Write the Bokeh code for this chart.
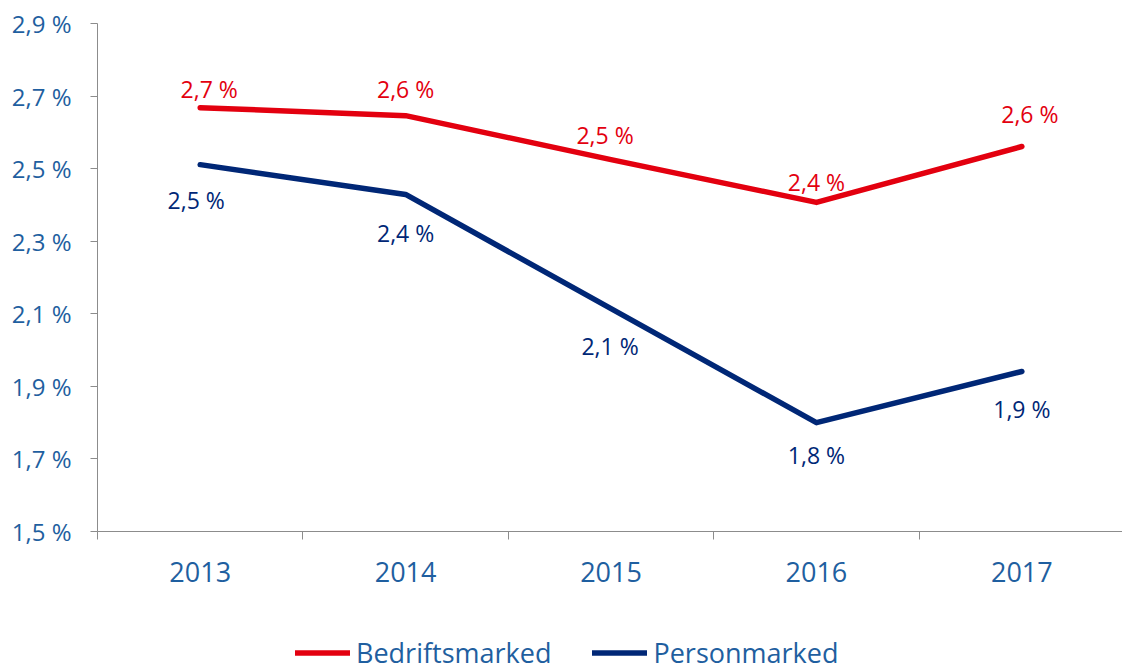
from bokeh.plotting import figure
from bokeh.layouts import column
from bokeh.models import (Range1d, FixedTicker, ColumnDataSource, Legend, LegendItem)
from bokeh.core.properties import value
from bokeh.embed import file_html
from bokeh.resources import INLINE

years = ["2013", "2014", "2015", "2016", "2017"]
bedrift = [2.668, 2.646, 2.525, 2.407, 2.561]
person = [2.511, 2.429, 2.114, 1.800, 1.941]
y_ticks = [1.5, 1.7, 1.9, 2.1, 2.3, 2.5, 2.7, 2.9]
series_names = ["Bedriftsmarked", "Personmarked"]

RED = "#E3000F"
NAVY = "#002776"
AXBLUE = "#1F5FA0"
GRAY = "#8C8C8C"
FONT = "Open Sans"

def fmt(v):
    return f"{v:.1f}".replace(".", ",") + " %"

xs = [i + 0.5 for i in range(len(years))]

p = figure(frame_width=1025, frame_height=508, output_backend="svg", toolbar_location=None,
           x_range=Range1d(0, 4.99), y_range=Range1d(1.5, 2.9),
           min_border_left=97, min_border_right=0, min_border_top=23,
           min_border_bottom=92)
p.outline_line_color = None
p.grid.visible = False
p.background_fill_color = "white"
p.border_fill_color = "white"

# y axis
p.yaxis.ticker = FixedTicker(ticks=y_ticks)
p.yaxis.major_label_overrides = {t: fmt(t) for t in y_ticks}
p.yaxis.major_label_text_font = FONT
p.yaxis.major_label_text_font_size = "24px"
p.yaxis.major_label_text_color = AXBLUE
p.yaxis.axis_line_color = GRAY
p.yaxis.major_tick_line_color = GRAY
p.yaxis.major_tick_out = 7
p.yaxis.major_tick_in = 0
p.yaxis.minor_tick_line_color = None
p.yaxis.major_label_standoff = 19

# x axis: labels at category centers, ticks at boundaries
p.xaxis.ticker = FixedTicker(ticks=xs, minor_ticks=list(range(len(years) + 1)))
p.xaxis.major_label_overrides = {x: y for x, y in zip(xs, years)}
p.xaxis.major_label_text_font = FONT
p.xaxis.major_label_text_font_size = "27px"
p.xaxis.major_label_text_color = AXBLUE
p.xaxis.axis_line_color = GRAY
p.xaxis.major_tick_line_color = None
p.xaxis.major_tick_out = 8
p.xaxis.minor_tick_line_color = GRAY
p.xaxis.minor_tick_out = 8
p.xaxis.minor_tick_in = 0
p.xaxis.major_label_standoff = 22

LW = 5.5
p.line(xs, bedrift, line_color=RED, line_width=LW, line_cap="round", line_join="round")
p.line(xs, person, line_color=NAVY, line_width=LW, line_cap="round", line_join="round")

# data labels (pixel offsets are styles)
red_dx = [9, 0, -6, 0, 8]
red_dy = [-19, -27, -25, -20, -33]
blue_dx = [-4, 0, -1, 0, 0]
blue_dy = [35, 39, 37, 32, 38]

s1 = ColumnDataSource(dict(x=xs, y=bedrift, t=[fmt(v) for v in bedrift], dx=red_dx, dy=red_dy))
s2 = ColumnDataSource(dict(x=xs, y=person, t=[fmt(v) for v in person], dx=blue_dx, dy=blue_dy))
p.text(x="x", y="y", text="t", x_offset="dx", y_offset="dy", source=s1,
       text_font=value(FONT), text_font_size="23px", text_color=RED,
       text_align="center", text_baseline="middle")
p.text(x="x", y="y", text="t", x_offset="dx", y_offset="dy", source=s2,
       text_font=value(FONT), text_font_size="23px", text_color=NAVY,
       text_align="center", text_baseline="middle")

# legend strip below the chart (its frame is aligned with the chart frame)
nan = float("nan")
lf = figure(width=1122, height=48, output_backend="svg", toolbar_location=None,
            x_range=Range1d(0, 1), y_range=Range1d(0, 1),
            min_border=0, outline_line_color=None)
lf.axis.visible = False
lf.grid.visible = False
lr1 = lf.line(x=[nan, nan], y=[nan, nan], line_color=RED, line_width=LW, line_cap="round")
lr2 = lf.line(x=[nan, nan], y=[nan, nan], line_color=NAVY, line_width=LW, line_cap="round")
legend = Legend(items=[LegendItem(label=series_names[0], renderers=[lr1]),
                       LegendItem(label=series_names[1], renderers=[lr2])],
                orientation="horizontal", location=(198, 0),
                border_line_color=None, background_fill_alpha=0,
                padding=0, margin=0, spacing=41, label_standoff=6,
                glyph_width=55, glyph_height=27, label_height=27,
                label_text_font=FONT, label_text_font_size="27px",
                label_text_color=AXBLUE)
lf.add_layout(legend, "center")

layout = column(p, lf, spacing=0)
open("out.html", "w").write(file_html(layout, INLINE))
